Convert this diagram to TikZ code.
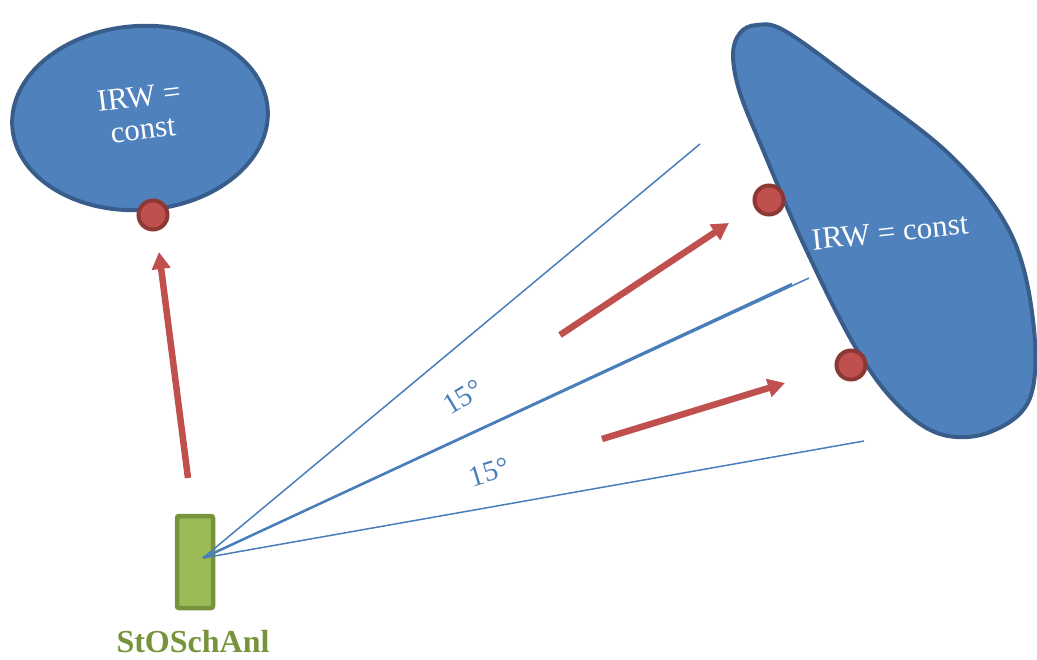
\documentclass[tikz,border=0pt]{standalone}
\usepackage{fontspec}
\setmainfont{Liberation Serif}
\usetikzlibrary{shapes.geometric,arrows.meta}
\definecolor{zonefill}{HTML}{4F81BD}
\definecolor{zoneedge}{HTML}{385D8A}
\definecolor{rayblue}{HTML}{4A7EBB}
\definecolor{redarrow}{HTML}{C0504D}
\definecolor{dotedge}{HTML}{8C3836}
\definecolor{boxfill}{HTML}{9BBB59}
\definecolor{boxedge}{HTML}{77933C}
\tikzset{
  zone/.style={fill=zonefill, draw=zoneedge, line width=4pt},
  zonetext/.style={text=white, font=\fontsize{31}{33}\selectfont, align=center, inner sep=0pt},
  ray/.style={draw=rayblue, line width=1.5pt},
  rayth/.style={draw=rayblue, line width=2.5pt},
  anglelabel/.style={text=rayblue, font=\fontsize{29}{31}\selectfont, inner sep=0pt},
  movearrow/.style={draw=redarrow, line width=6.5pt, -{Triangle[length=17pt,width=18pt]}},
  hitdot/.style={circle, fill=redarrow, draw=dotedge, line width=4pt, minimum size=29pt, inner sep=0pt},
  sensor/.style={fill=boxfill, draw=boxedge, line width=4.5pt, rounded corners=2pt},
  sensorlabel/.style={text=boxedge, font=\bfseries\fontsize{32}{34}\selectfont, inner sep=0pt}
}
\begin{document}
\begin{tikzpicture}[x=1pt,y=-1pt]
\useasboundingbox (0,0) rectangle (1037,660);
% left zone
\node[zone, ellipse, minimum width=256pt, minimum height=184pt, inner sep=0pt, rotate=4] (zoneA) at (140,118) {};
\node[zonetext, rotate=7] (textA) at (141,113) {IRW =\\const};
\node[hitdot] (dotA) at (153,215) {};
% right zone (blob)
\path[zone] plot[smooth cycle, tension=0.6] coordinates {
 (757,25) (785,31) (853,80) (950,155) (1010,232) (1033,320) (1030,398) (990,432)
 (940,434) (895,402) (853,343) (803,243) (763,150) (740,93) (733,55) (740,33)};
\node[zonetext, rotate=6] (textB) at (890,232) {IRW = const};
\node[hitdot] (dotB) at (769,200) {};
\node[hitdot] (dotC) at (851,365) {};
% sensor
\draw[sensor] (177,516) rectangle (213,608);
\coordinate (src) at (203,558);
\node[sensorlabel] (lab) at (193,642) {StOSchAnl};
% rays
\coordinate (r1) at (700,144);
\coordinate (r2) at (792,284);
\coordinate (r2b) at (809,278);
\coordinate (r3) at (864,441);
\draw[ray] (src) -- (r1);
\draw[rayth] (src) -- (r2);
\draw[ray] (src) -- (r2b);
\draw[ray] (src) -- (r3);
\node[anglelabel, rotate=31] (ang1) at (463,397) {15°};
\node[anglelabel, rotate=17] (ang2) at (489,472) {15°};
% movement arrows
\coordinate (a1s) at (188,478); \coordinate (a1e) at (159,252);
\coordinate (a2s) at (560,335); \coordinate (a2e) at (729,223);
\coordinate (a3s) at (602,439); \coordinate (a3e) at (785,383);
\draw[movearrow] (a1s) -- (a1e);
\draw[movearrow] (a2s) -- (a2e);
\draw[movearrow] (a3s) -- (a3e);
\end{tikzpicture}
\end{document}
